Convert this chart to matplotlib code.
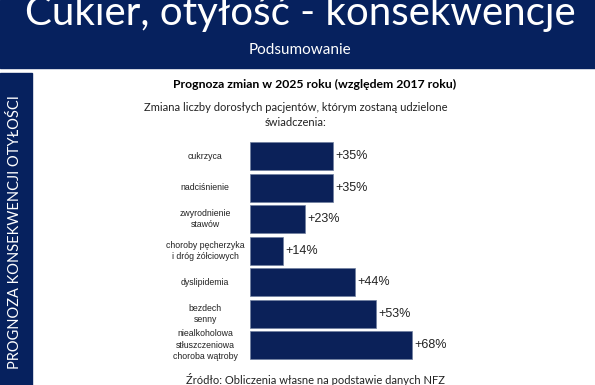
import matplotlib.pyplot as plt
from matplotlib.patches import Rectangle

navy = '#06215e'
bar_navy = '#0b2159'

categories = ['cukrzyca', 'nadciśnienie', 'zwyrodnienie\nstawów',
              'choroby pęcherzyka\ni dróg żółciowych', 'dyslipidemia',
              'bezdech\nsenny', 'niealkoholowa\nstłuszczeniowa\nchoroba wątroby']
changes = [35, 35, 23, 14, 44, 53, 68]
value_labels = ['+35%', '+35%', '+23%', '+14%', '+44%', '+53%', '+68%']

W, H = 595, 385
fig = plt.figure(figsize=(W / 100, H / 100), dpi=100)
fig.patch.set_facecolor('white')

# header band and left sidebar
fig.patches.append(Rectangle((0, 1 - 68 / H), 1, 68 / H, transform=fig.transFigure,
                             color=navy, zorder=0))
fig.patches.append(Rectangle((0, 0), 32 / W, 1 - 73 / H, transform=fig.transFigure,
                             color=navy, zorder=0))

fig.text(300 / W, 1 - 13 / H, 'Cukier, otyłość - konsekwencje', color='white',
         fontsize=29, family='Lato', ha='center', va='center')
fig.text(300 / W, 1 - 50 / H, 'Podsumowanie', color='white', fontsize=11,
         family='Lato', ha='center', va='center')
fig.text(15 / W, 1 - 232 / H, 'PROGNOZA KONSEKWENCJI OTYŁOŚCI', color='white',
         fontsize=10.5, family='Lato', rotation=90, ha='center', va='center')

fig.text(315 / W, 1 - 84 / H, 'Prognoza zmian w 2025 roku (względem 2017 roku)',
         fontsize=8.8, fontweight='bold', family='Lato', ha='center', va='center')
fig.text(296 / W, 1 - 115 / H,
         'Zmiana liczby dorosłych pacjentów, którym zostaną udzielone\nświadczenia:',
         fontsize=8, family='Lato', ha='center', va='center', color='#222222',
         linespacing=1.5)
fig.text(315 / W, 1 - 379 / H, 'Źródło: Obliczenia własne na podstawie danych NFZ',
         fontsize=8, family='Lato', ha='center', va='center', color='#222222')

ax = fig.add_axes([250 / W, 1 - 361 / H, 200 / W, 220.5 / H])
ypos = range(len(categories))
ax.barh(ypos, changes, height=0.9, color=bar_navy, edgecolor='#6f7f9f', linewidth=0.5)
ax.set_ylim(6.5, -0.5)
ax.set_xlim(0, 200 / 2.38)
for y, v, lab in zip(ypos, changes, value_labels):
    ax.text(v + 1.0, y, lab, va='center', ha='left', fontsize=9,
            family='Liberation Sans', color='#222222')
for y, c in zip(ypos, categories):
    ax.text(-45 / 2.38, y, c, va='center', ha='center', fontsize=6.3,
            family='Liberation Sans', color='#222222', linespacing=1.35)
ax.axis('off')

fig.savefig('out.png', dpi=100)
